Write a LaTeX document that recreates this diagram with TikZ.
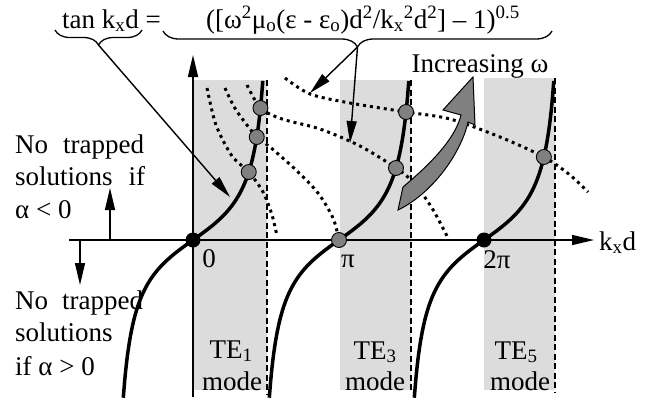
\documentclass[tikz,border=0pt]{standalone}
\usepackage{fontspec}
\setmainfont{Liberation Serif}
\usetikzlibrary{arrows.meta,decorations.pathreplacing}
\definecolor{shade}{HTML}{DCDCDC}
\definecolor{dotgray}{HTML}{808080}
\begin{document}
\begin{tikzpicture}[x=1pt,y=-1pt,
  txt/.style={font=\fontsize{27}{32}\selectfont, inner sep=0pt},
  band/.style={fill=shade, draw=none},
  edge/.style={line width=1.2pt, dash pattern=on 6pt off 3.5pt},
  axisline/.style={line width=1.6pt, -{Triangle[length=22pt,width=10pt]}},
  pointer/.style={line width=1.4pt, -{Triangle[length=22pt,width=10pt]}},
  branch/.style={line width=3.5pt},
  rhs/.style={line width=3pt, dash pattern=on 3pt off 4pt},
  cross/.style={circle, fill=dotgray, draw=black, line width=0.9pt, minimum size=15pt, inner sep=0pt},
  root/.style={circle, fill=black, minimum size=15pt, inner sep=0pt},
  bracestyle/.style={line width=1.3pt, decorate, decoration={brace, mirror, amplitude=#1}},
  bigarrow/.style={fill=dotgray, draw=black, line width=1pt, line join=miter},
]
\useasboundingbox (0,0) rectangle (648,413);
% mode bands
\fill[band] (194,80) rectangle (267,390);
\fill[band] (340,80) rectangle (411,390);
\fill[band] (484,78) rectangle (555,390);
\draw[edge] (267,80) -- (267,395);
\draw[edge] (411,80) -- (411,393);
\draw[edge] (555,78) -- (555,392);
% axes
\coordinate (xs) at (69,240);
\coordinate (xe) at (594,240);
\coordinate (ys) at (193,397);
\coordinate (ye) at (193,55);
\draw[axisline] (xs) -- (xe);
\draw[axisline] (ys) -- (ye);
% intersection points
\path ({193+52*rad(atan(68/37))},172) coordinate (c1a);
\path ({193+52*rad(atan(103/37))},137) coordinate (c1b);
\path ({193+52*rad(atan(132/37))},108) coordinate (c1c);
\path ({339+52*rad(atan(72/37))},168) coordinate (c2a);
\path ({339+52*rad(atan(128/37))},112) coordinate (c2b);
\path ({484+52*rad(atan(83/37))},157) coordinate (c3);
\coordinate (piC) at (339,240);
% right-hand-side curves (dotted)
\draw[rhs] plot[smooth] coordinates {(207,88) (216,125) (232,156) (c1a) (263,192) (272,215) (277,236)};
\draw[rhs] plot[smooth] coordinates {(225,88) (236,110) (c1b) (270,147) (296,170) (318,193) (333,218) (piC)};
\draw[rhs] plot[smooth] coordinates {(247,85) (c1c) (282,119) (320,129) (360,146) (c2a) (414,183) (432,208) (447,236)};
\draw[rhs] plot[smooth] coordinates {(285,78) (310,94) (350,103) (c2b) (450,119) (500,137) (c3) (570,175) (588,192)};
% tan branches
\foreach \c in {193,339,484}
  \draw[branch] plot[domain=-69.7:69.8, samples=90, smooth] ({\c+\x},{240-37*tan(deg(\x/52))});
% points
\node[cross] (p1a) at (c1a) {};
\node[cross] (p1b) at (c1b) {};
\node[cross] (p1c) at (c1c) {};
\node[cross] (p2a) at (c2a) {};
\node[cross] (p2b) at (c2b) {};
\node[cross] (p3) at (c3) {};
\node[cross] (pi) at (piC) {};
\node[root] (o0) at (193,240) {};
\node[root] (o2) at (484,240) {};
% increasing omega arrow
\draw[bigarrow] (403,187) .. controls (428,166) and (455,140) .. (461,115) -- (443,110) -- (473,77) -- (475,125) -- (468,122) .. controls (462,150) and (435,192) .. (398,210) -- cycle;
\node[txt, anchor=base] (inc) at (480,72) {Increasing ω};
% equation
\node[txt, anchor=base west] (lhs) at (62,28) {tan k\textsubscript{x}d =};
\node[txt, anchor=base west] (rhstext) at (206,28) {([ω\textsuperscript{2}μ\textsubscript{o}(ε - ε\textsubscript{o})d\textsuperscript{2}/k\textsubscript{x}\textsuperscript{2}d\textsuperscript{2}] – 1)\textsuperscript{0.5}};
\coordinate (bl1) at (55,30);
\coordinate (bl2) at (142,30);
\coordinate (br1) at (163,31);
\coordinate (br2) at (552,31);
\draw[bracestyle=15pt] (bl1) -- (bl2);
\draw[bracestyle=16pt] (br1) -- (br2);
\coordinate (tipl) at (98.5,45);
\coordinate (tipr) at (357.5,47);
\coordinate (al) at (230,197);
\coordinate (ar1) at (310,93);
\coordinate (ar2) at (350,143);
\draw[pointer] (tipl) -- (al);
\draw[pointer] (tipr) -- (ar1);
\draw[pointer] (tipr) -- (ar2);
% axis labels
\node[txt, anchor=base] (zero) at (209,267) {0};
\node[txt, anchor=base] (pilab) at (348,267) {π};
\node[txt, anchor=base] (twopi) at (497,268) {2π};
\node[txt, anchor=base west] (kxd) at (599,250) {k\textsubscript{x}d};
% side notes
\node[txt, anchor=base west] (u1) at (15,153) {\makebox[129pt][s]{No trapped}};
\node[txt, anchor=base west] (u2) at (15,185) {\makebox[130pt][s]{solutions if}};
\node[txt, anchor=base west] (u3) at (15,218) {α < 0};
\node[txt, anchor=base west] (l1) at (15,309) {\makebox[128pt][s]{No trapped}};
\node[txt, anchor=base west] (l2) at (15,341) {solutions};
\node[txt, anchor=base west] (l3) at (15,375) {if α > 0};
\coordinate (ua) at (110,240);
\coordinate (ub) at (110,188);
\coordinate (da) at (80,240);
\coordinate (db) at (80,285);
\draw[pointer] (ua) -- (ub);
\draw[pointer] (da) -- (db);
% mode labels
\node[txt, anchor=base] (te1) at (231,358) {TE\textsubscript{1}};
\node[txt, anchor=base] (m1) at (232,390) {mode};
\node[txt, anchor=base] (te3) at (375,359) {TE\textsubscript{3}};
\node[txt, anchor=base] (m3) at (375,390) {mode};
\node[txt, anchor=base] (te5) at (516,359) {TE\textsubscript{5}};
\node[txt, anchor=base] (m5) at (520,390) {mode};
\end{tikzpicture}
\end{document}
